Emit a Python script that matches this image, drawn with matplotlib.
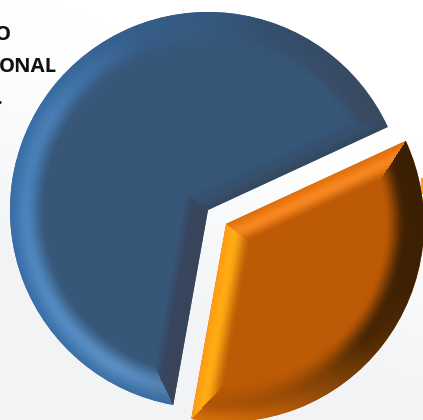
import numpy as np
import matplotlib
matplotlib.use("Agg")
import matplotlib.pyplot as plt
from matplotlib.colors import to_rgb
from matplotlib.patches import Rectangle

# values
slice_values = [65.3, 34.7]
slice_explode = [0, 22.8]
slice_colors = ["#375779", "#bd5a05"]
start_angle = 24.8

text_lines = ["O", "ONAL", "."]
text_right = [11, 57, 3]
text_y = [35, 67, 99]


def rgb(c):
    return np.array(to_rgb(c))


# bevel looks: (outer colour, inner colour, where inner colour sits, width)
blue_bevel = {
    "first": ("#34495f", "#36506e", 0.5, 24),
    "second": ("#38445a", "#38465e", 0.55, 27),
    "wrap": False,
    "arc_width": 36,
    "arc_angles": [20, 45, 70, 92, 112, 135, 150, 170, 205, 240, 265],
    "arc_outer": ["#3a4a5e", "#374a62", "#344e6c", "#345a82", "#345e8a", "#38689c", "#3a6ea6", "#3a6ea8", "#3b6fa9", "#3d72a8", "#3b6a9c"],
    "arc_inner": ["#3a4a60", "#384c66", "#35506f", "#365a80", "#375e88", "#4072a8", "#4a7db4", "#4880b8", "#5088c0", "#5a8ec3", "#4d7ba8"],
}
orange_bevel = {
    "first": ("#ff9c12", "#ffac14", 0.35, 28),
    "second": ("#e2700c", "#f98720", 0.45, 26),
    "wrap": True,
    "arc_width": 40,
    "arc_angles": [-100, -85, -70, -55, -40, -20, 0, 25],
    "arc_outer": ["#d8700e", "#cc6a0a", "#b05808", "#80460a", "#5a3004", "#3e2003", "#3c2003", "#3a1e03"],
    "arc_inner": ["#b45606", "#aa5206", "#9a4c06", "#7a3f05", "#4a2703", "#3f2103", "#3e2103", "#3c2003"],
}


def smooth(t):
    t = np.clip(t, 0, 1)
    return t * t * (3 - 2 * t)


def ramp(t, outer, inner, tm, base):
    # outer -> inner -> base along the bevel width
    a = smooth(t / tm)[..., None]
    b = smooth((t - tm) / (1 - tm))[..., None]
    first = outer + (inner - outer) * a
    return first + (base - first) * b


def shade(wedge, base, bevel, xx, yy):
    cx, cy = wedge.center
    dx, dy = xx - cx, yy - cy
    r = np.hypot(dx, dy)
    ang = np.degrees(np.arctan2(dy, dx))
    lo, hi = wedge.theta1, wedge.theta2
    phi = lo + np.mod(ang - lo, 360)
    span = hi - lo

    d1 = r * np.abs(np.sin(np.radians(phi - lo)))
    d2 = r * np.abs(np.sin(np.radians(hi - phi)))
    near_first = (phi - lo) < span / 2
    near_first = near_first | (phi - lo > span + (360 - span) / 2)
    d_arc = wedge.r - r

    base = rgb(base)
    first, second = bevel["first"], bevel["second"]
    t1, t2, ta = d1 / first[3], d2 / second[3], d_arc / bevel["arc_width"]

    if bevel["wrap"]:
        arc_ang = np.where(ang > 90, ang - 360, ang)
    else:
        arc_ang = np.mod(ang, 360)
    arc_out = np.stack([np.interp(arc_ang, bevel["arc_angles"], [rgb(c)[i] for c in bevel["arc_outer"]]) for i in range(3)], -1)
    arc_in = np.stack([np.interp(arc_ang, bevel["arc_angles"], [rgb(c)[i] for c in bevel["arc_inner"]]) for i in range(3)], -1)

    c1 = ramp(t1, rgb(first[0]), rgb(first[1]), first[2], base)
    c2 = ramp(t2, rgb(second[0]), rgb(second[1]), second[2], base)
    ca = ramp(ta, arc_out, arc_in, 0.45, base)

    use_arc = ((ta <= t1) & near_first) | ((ta <= t2) & ~near_first)
    out = np.where(near_first[..., None], c1, c2)
    return np.where(use_arc[..., None], ca, out)


fig = plt.figure(figsize=(4.23, 4.20), dpi=100)
ax = fig.add_axes([0, 0, 1, 1])

wedges, _ = ax.pie(slice_values, explode=slice_explode, colors=slice_colors,
                   startangle=start_angle, center=(208, 210), radius=198, frame=True)

xs = np.arange(423) + 0.5
ys = np.arange(420) + 0.5
xx, yy = np.meshgrid(xs, ys)

# page background, white at top right going grey to the lower left
fade = smooth((yy / 420) * 1.3 + (xx / 423) * 0.5 - 0.35)[..., None]
bg = rgb("#ffffff") * fade + rgb("#f1f3f5") * (1 - fade)
ax.imshow(bg, extent=(0, 423, 0, 420), origin="lower", zorder=0, aspect="auto")

for wedge, base, bevel in zip(wedges, slice_colors, [blue_bevel, orange_bevel]):
    wedge.set_zorder(2)
    img = shade(wedge, base, bevel, xx, yy)
    im = ax.imshow(img, extent=(0, 423, 0, 420), origin="lower", zorder=3, aspect="auto")
    im.set_clip_path(wedge)

for s, x, y in zip(text_lines, text_right, text_y):
    ax.text(x, 420 - y, s, ha="right", va="center", family="Open Sans",
            fontweight="bold", fontsize=14.6, color="#111111", zorder=4)

ax.add_patch(Rectangle((421, 420 - 193), 3, 15, color="#ffa512", zorder=1))

ax.set_xlim(0, 423)
ax.set_ylim(0, 420)
ax.set_aspect("auto")
ax.axis("off")
fig.savefig("out.png", dpi=100)
